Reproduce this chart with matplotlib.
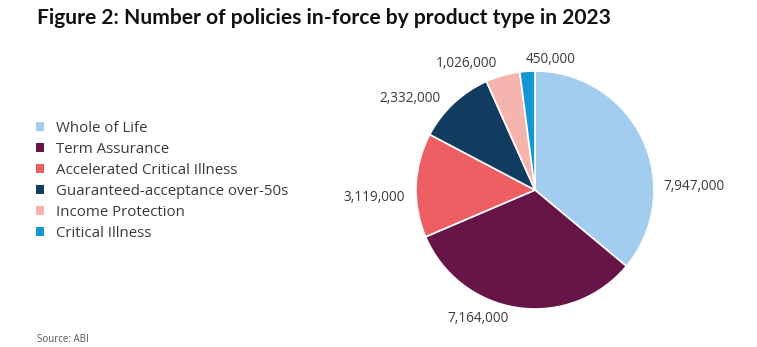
import matplotlib
matplotlib.use("Agg")
import matplotlib.pyplot as plt
from matplotlib.patches import Patch

# --- Data ---
categories = [
    "Whole of Life",
    "Term Assurance",
    "Accelerated Critical Illness",
    "Guaranteed-acceptance over-50s",
    "Income Protection",
    "Critical Illness",
]
policies = [7947000, 7164000, 3119000, 2332000, 1026000, 450000]
colors = ["#A3CDEE", "#661546", "#EE5F63", "#123B60", "#F5B4AE", "#1497D4"]

# label placement, in units of the pie radius (outside the pie, as in the source chart)
label_pos = [(1.34, 0.03), (-0.48, -1.08), (-1.35, -0.06),
             (-1.05, 0.77), (-0.58, 1.06), (0.13, 1.10)]

plt.rcParams["font.family"] = ["Open Sans", "DejaVu Sans"]

W, H = 757, 347
fig = plt.figure(figsize=(W / 100, H / 100), dpi=100)

# pie axes in pixel coordinates: centre (535, 190), radius 119
cx, cy, r = 535, 190, 119
ax = fig.add_axes([(cx - r) / W, (H - cy - r) / H, 2 * r / W, 2 * r / H])
wedges, _ = ax.pie(
    policies,
    colors=colors,
    startangle=90,
    counterclock=False,
    wedgeprops=dict(edgecolor="white", linewidth=1.2),
)
for v, (lx, ly) in zip(policies, label_pos):
    ax.text(lx, ly, f"{v:,}", fontsize=9.8, color="#3a3a3a",
            ha="center", va="center", clip_on=False)
ax.set_xlim(-1, 1)
ax.set_ylim(-1, 1)
ax.set_aspect("equal")
ax.axis("off")

fig.text(37 / W, 1 - 18 / H, "Figure 2: Number of policies in-force by product type in 2023",
         fontsize=15.1, fontweight="bold", color="#111111", va="center", ha="left",
         family=["Lato", "DejaVu Sans"])

handles = [Patch(facecolor=c, edgecolor="none") for c in colors]
fig.legend(
    handles, categories,
    loc="upper left", bbox_to_anchor=(22 / W, 1 - 107 / H),
    frameon=False, fontsize=10.8, handlelength=0.55, handleheight=0.55,
    handletextpad=0.85, labelspacing=0.41, labelcolor="#3a3a3a",
)

fig.text(37 / W, 1 - 340 / H, "Source: ABI", fontsize=7, color="#555555",
         va="center", ha="left")

fig.savefig("out.png", dpi=100, facecolor="white")
